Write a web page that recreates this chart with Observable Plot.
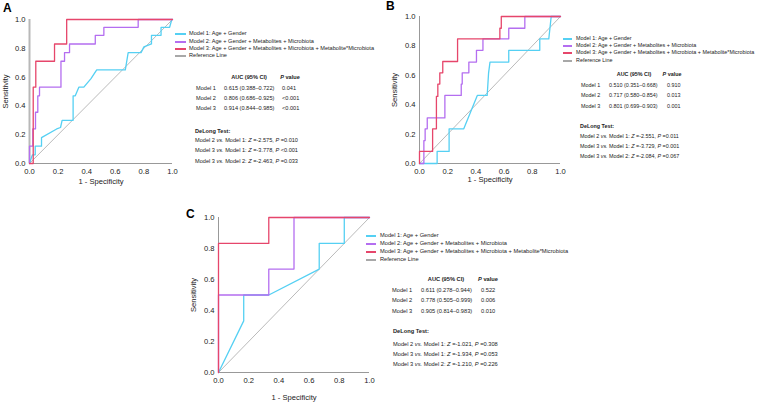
<!DOCTYPE html>
<html><head><meta charset="utf-8">
<script src="https://cdn.jsdelivr.net/npm/d3@7"></script>
<script src="https://cdn.jsdelivr.net/npm/@observablehq/plot@0.6"></script>
<style>
body{margin:0;background:#fff;}
#root{position:relative;width:760px;height:402px;overflow:hidden;font-family:"Liberation Sans",Arial,sans-serif;color:#222;}
.abs{position:absolute;white-space:nowrap;line-height:1;}
.sm{font-size:5.7px;transform:translateY(-50%);}
.ctr{transform:translate(-50%,-50%);}
.letter{font-size:12px;font-weight:bold;transform:translateY(-50%);color:#000;}
.plotbox{position:absolute;}
</style></head><body><div id="root"></div>
<script>
// ---------- data ----------
const legendLabels = [
  "Model 1: Age + Gender",
  "Model 2: Age + Gender + Metabolites + Microbiota",
  "Model 3: Age + Gender + Metabolites + Microbiota + Metabolite*Microbiota",
  "Reference Line"
];
const modelNames = ["Model 1", "Model 2", "Model 3"];
const colors = ["#55d0f3", "#b46ef0", "#e6466b", "#a8a8a8"];
const refLine = [[0, 0], [1, 1]];
const axisTicks = [0, 0.2, 0.4, 0.6, 0.8, 1.0];

// Panel A ROC points [1-specificity, sensitivity]
const A_m1 = [[0,0],[0.02,0.06],[0.04,0.06],[0.04,0.12],[0.084,0.12],[0.084,0.18],[0.19,0.24],[0.217,0.25],[0.228,0.30],[0.305,0.30],[0.305,0.47],[0.32,0.47],[0.345,0.53],[0.38,0.53],[0.43,0.59],[0.47,0.65],[0.67,0.65],[0.69,0.77],[0.78,0.77],[0.80,0.81],[0.853,0.83],[0.853,0.89],[0.92,0.89],[0.92,0.946],[0.98,0.946],[0.995,1],[1,1]];
const A_m2 = [[0,0],[0,0.12],[0.023,0.12],[0.023,0.24],[0.042,0.24],[0.042,0.356],[0.058,0.356],[0.058,0.47],[0.07,0.47],[0.07,0.53],[0.22,0.53],[0.22,0.71],[0.245,0.71],[0.245,0.77],[0.28,0.77],[0.28,0.83],[0.46,0.83],[0.46,0.89],[0.52,0.89],[0.52,0.946],[0.76,0.946],[0.76,1],[1,1]];
const A_m3 = [[0,0],[0.026,0],[0.026,0.53],[0.044,0.53],[0.044,0.71],[0.175,0.71],[0.175,0.83],[0.26,0.83],[0.26,1],[1,1]];
const A_auc = ["0.615 (0.388\u20130.722)", "0.806 (0.686\u20130.925)", "0.914 (0.844\u20130.985)"];
const A_p = ["0.041", "<0.001", "<0.001"];
const A_delongPairs = [["2","1"],["3","1"],["3","2"]];
const A_delongZ = ["-2.575", "-3.778", "-2.463"];
const A_delongP = ["=0.010", "<0.001", "=0.033"];

// Panel B
const B_m1 = [[0,0],[0.125,0],[0.125,0.082],[0.21,0.082],[0.21,0.236],[0.314,0.236],[0.41,0.463],[0.48,0.463],[0.49,0.617],[0.50,0.69],[0.633,0.69],[0.633,0.77],[0.853,0.77],[0.853,0.848],[0.917,0.848],[0.934,1],[1,1]];
const B_m2 = [[0,0],[0.031,0],[0.031,0.156],[0.04,0.156],[0.04,0.236],[0.055,0.236],[0.055,0.31],[0.18,0.31],[0.18,0.463],[0.296,0.463],[0.296,0.54],[0.303,0.54],[0.303,0.617],[0.35,0.617],[0.35,0.69],[0.404,0.69],[0.404,0.77],[0.45,0.77],[0.45,0.848],[0.633,0.848],[0.633,0.92],[0.747,0.92],[0.747,1],[1,1]];
const B_m3 = [[0,0],[0,0.082],[0.093,0.082],[0.093,0.236],[0.12,0.236],[0.12,0.456],[0.13,0.456],[0.13,0.54],[0.144,0.54],[0.144,0.617],[0.165,0.617],[0.165,0.694],[0.27,0.694],[0.27,0.848],[0.57,0.848],[0.57,0.92],[0.58,0.92],[0.58,1],[1,1]];
const B_auc = ["0.510 (0.351\u20130.668)", "0.717 (0.580\u20130.854)", "0.801 (0.699\u20130.903)"];
const B_p = ["0.910", "0.013", "0.001"];
const B_delongPairs = [["2","1"],["3","1"],["3","2"]];
const B_delongZ = ["-2.551", "-3.729", "-2.084"];
const B_delongP = ["=0.011", "=0.001", "=0.067"];

// Panel C
const C_m1 = [[0,0],[0.167,0.333],[0.167,0.5],[0.333,0.5],[0.667,0.667],[0.667,0.833],[0.833,0.833],[0.833,1],[1,1]];
const C_m2 = [[0,0],[0,0.5],[0.333,0.5],[0.333,0.667],[0.5,0.667],[0.5,1],[1,1]];
const C_m3 = [[0,0],[0,0.833],[0.333,0.833],[0.333,1],[1,1]];
const C_auc = ["0.611 (0.278\u20130.944)", "0.778 (0.505\u20130.999)", "0.905 (0.814\u20130.983)"];
const C_p = ["0.522", "0.006", "0.010"];
const C_delongPairs = [["2","1"],["3","1"],["3","2"]];
const C_delongZ = ["-1.021", "-1.934", "-1.210"];
const C_delongP = ["=0.308", "=0.053", "=0.226"];

// ---------- drawing ----------
const root = document.getElementById("root");
const FONT = "'Liberation Sans', Arial, sans-serif";

function rocPanel(curves, L) {
  const chart = Plot.plot({
    width: L.mL + L.pw + L.mR,
    height: L.mT + L.ph + L.mB,
    marginLeft: L.mL, marginTop: L.mT, marginRight: L.mR, marginBottom: L.mB,
    x: {domain: [0, 1]},
    y: {domain: [0, 1]},
    style: {fontFamily: FONT, fontSize: "7.6px", color: "#222", background: "transparent", overflow: "visible"},
    marks: [
      Plot.axisX({ticks: axisTicks, tickFormat: d3.format(".1f"), tickSize: 0, tickPadding: 5,
        label: "1 - Specificity", labelAnchor: "center", labelArrow: "none", labelOffset: L.xlo}),
      Plot.axisY({ticks: axisTicks, tickFormat: d3.format(".1f"), tickSize: 0, tickPadding: 4,
        label: "Sensitivity", labelAnchor: "center", labelArrow: "none", labelOffset: L.ylo}),
      Plot.line(refLine, {x: d => d[0], y: d => d[1], stroke: colors[3], strokeWidth: 0.8}),
      Plot.ruleX([0], {stroke: L.axisC, strokeWidth: L.axisW}),
      Plot.ruleY([0], {stroke: "#999", strokeWidth: 1}),
      ...curves.map((pts, i) => Plot.line(pts, {x: d => d[0], y: d => d[1], stroke: colors[i], strokeWidth: 1.3}))
    ]
  });
  const box = document.createElement("div");
  box.className = "plotbox";
  box.style.left = L.left + "px";
  box.style.top = L.top + "px";
  box.appendChild(chart);
  root.appendChild(box);
}

function put(x, y, html, cls, fs) {
  const d = document.createElement("div");
  d.className = "abs " + cls;
  d.style.left = x + "px";
  d.style.top = y + "px";
  if (fs) d.style.fontSize = fs + "px";
  d.innerHTML = html;
  root.appendChild(d);
  return d;
}

function legendAndTable(T, auc, p, pairs, zs, ps) {
  const fs = T.fs;
  legendLabels.forEach((lab, i) => {
    const ln = document.createElement("div");
    ln.className = "abs";
    ln.style.left = T.lineX + "px";
    ln.style.top = Math.round(T.legY[i] - 1) + "px";
    ln.style.width = T.lineW + "px";
    ln.style.height = "1.5px";
    ln.style.background = colors[i];
    ln.style.zIndex = 5;
    root.appendChild(ln);
    put(T.textX, T.legY[i], lab, "sm", fs);
  });
  put(T.aucX, T.headY, "<b>AUC (95% CI)</b>", "sm ctr", fs);
  put(T.pX, T.headY, "<b><i>P</i> value</b>", "sm ctr", fs);
  modelNames.forEach((m, i) => {
    put(T.c1, T.rowY[i], m, "sm", fs);
    put(T.c2, T.rowY[i], auc[i], "sm", fs);
    put(T.c3, T.rowY[i], p[i], "sm", fs);
  });
  put(T.dX, T.dTitleY, "<b>DeLong Test:</b>", "sm", fs);
  pairs.forEach((pr, i) => {
    put(T.dX, T.dY[i], `Model ${pr[0]} <i>vs.</i> Model ${pr[1]}: <i>Z</i> =${zs[i]}, <i>P</i> ${ps[i]}`, "sm", fs);
  });
}

rocPanel([A_m1, A_m2, A_m3], {left: 0, top: 0, mL: 29, mT: 19, pw: 143, ph: 144, mR: 12, mB: 26, xlo: 20, ylo: 27, axisW: 2, axisC: "#b8b8b8"});
rocPanel([B_m1, B_m2, B_m3], {left: 380, top: 0, mL: 39, mT: 16, pw: 141, ph: 147, mR: 12, mB: 26, xlo: 18, ylo: 28, axisW: 1, axisC: "#999"});
rocPanel([C_m1, C_m2, C_m3], {left: 180, top: 200, mL: 38, mT: 17, pw: 151, ph: 155, mR: 12, mB: 30, xlo: 27, ylo: 28, axisW: 1, axisC: "#999"});

legendAndTable({fs: 5.6, lineX: 175, lineW: 11, textX: 189, legY: [34.3, 41.7, 49, 56.3],
  headY: 78, aucX: 249, pX: 290, rowY: [89, 99, 108.5], c1: 196, c2: 224, c3: 282,
  dX: 195, dTitleY: 132, dY: [141, 151, 162]}, A_auc, A_p, A_delongPairs, A_delongZ, A_delongP);
legendAndTable({fs: 5.4, lineX: 563, lineW: 9, textX: 576, legY: [39, 46, 53.3, 61],
  headY: 75, aucX: 634, pX: 672, rowY: [86, 96, 107], c1: 581, c2: 609, c3: 667,
  dX: 580, dTitleY: 127, dY: [137, 147, 157]}, B_auc, B_p, B_delongPairs, B_delongZ, B_delongP);
legendAndTable({fs: 5.7, lineX: 366, lineW: 10, textX: 380, legY: [236, 244, 252, 260],
  headY: 280, aucX: 446, pX: 488, rowY: [291, 301, 312], c1: 392, c2: 421, c3: 481,
  dX: 393, dTitleY: 332, dY: [345, 355, 365]}, C_auc, C_p, C_delongPairs, C_delongZ, C_delongP);

put(3, 8, "A", "letter");
put(386, 6, "B", "letter");
put(186, 214, "C", "letter");
</script></body></html>
